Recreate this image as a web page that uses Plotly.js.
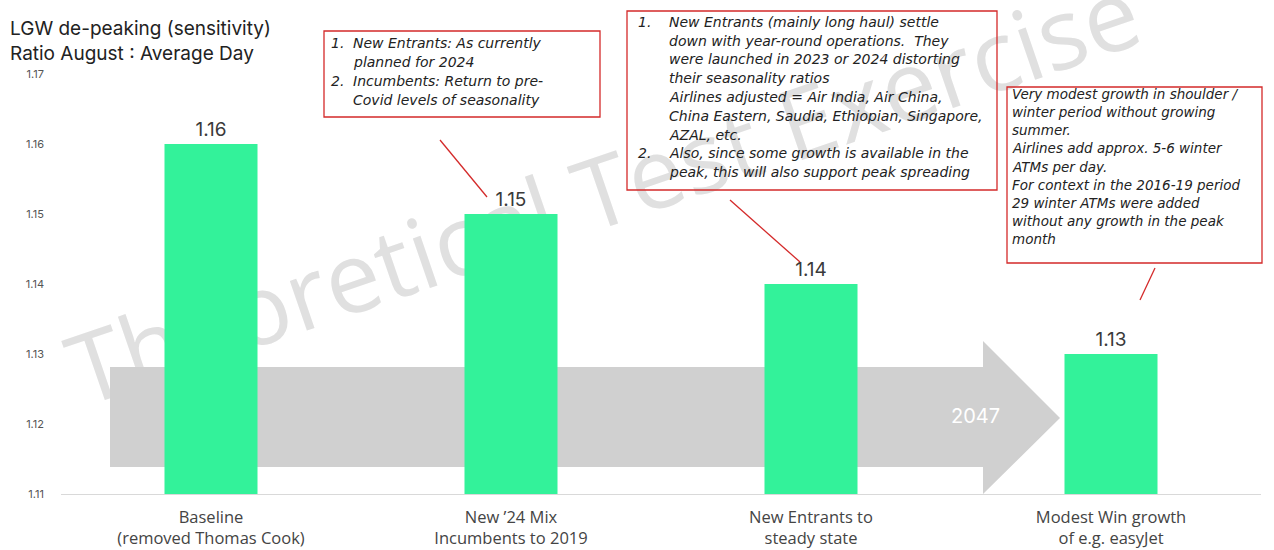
<!DOCTYPE html>
<html>
<head>
<meta charset="utf-8">
<script src="https://cdn.plot.ly/plotly-3.0.1.min.js"></script>
<style>html,body{margin:0;padding:0;background:#fff;}#chart{width:1274px;height:550px;}</style>
</head>
<body>
<div id="chart"></div>
<script>
// ---- data ----
const categories = ["Baseline<br>(removed Thomas Cook)", "New \u201924 Mix<br>Incumbents to 2019", "New Entrants to<br>steady state", "Modest Win growth<br>of e.g. easyJet"];
const ratios = [1.16, 1.15, 1.14, 1.13];
const yTicks = [1.11, 1.12, 1.13, 1.14, 1.15, 1.16, 1.17];
const yTickLabels = ["1.11", "1.12", "1.13", "1.14", "1.15", "1.16", "1.17"];
const titleLines = ["LGW de-peaking (sensitivity)", "Ratio August : Average Day"];
const arrowLabel = "2047";
const watermark = "Theoretical Test Exercise";
const box1Lines = ["New Entrants: As currently", "planned for 2024", "Incumbents: Return to pre-", "Covid levels of seasonality"];
const box1Numbers = ["1.", "", "2.", ""];
const box2Lines = ["New Entrants (mainly long haul) settle", "down with year-round operations.  They", "were launched in 2023 or 2024 distorting",
  "their seasonality ratios", "Airlines adjusted = Air India, Air China,", "China Eastern, Saudia, Ethiopian, Singapore,", "AZAL, etc.",
  "Also, since some growth is available in the", "peak, this will also support peak spreading"];
const box2Numbers = ["1.", "", "", "", "", "", "", "2.", ""];
const box3Lines = ["Very modest growth in shoulder /", "winter period without growing", "summer.", "Airlines add approx. 5-6 winter",
  "ATMs per day.", "For context in the 2016-19 period", "29 winter ATMs were added", "without any growth in the peak", "month"];

// ---- layout helpers (pixel -> paper) ----
const L = 61, R = 13, T = 74, B = 56, W = 1274, H = 550;
const PW = W - L - R, PH = H - T - B;
const px = x => (x - L) / PW;
const py = y => (H - B - y) / PH;

const red = '#d42a2a';
const boxFont = {family: 'DejaVu Sans, sans-serif', size: 14, color: '#222', style: 'italic'};

const trace = {
  type: 'bar',
  x: categories,
  y: ratios,
  width: 0.31,
  marker: {color: '#33f29a'},
  text: ratios.map(v => v.toFixed(2)),
  textposition: 'outside',
  textfont: {family: 'Inter, sans-serif', size: 19, color: '#3a3a3a'},
  cliponaxis: false,
  hoverinfo: 'skip'
};

const arrowPath = 'M ' + px(110) + ' ' + py(367) + ' L ' + px(983) + ' ' + py(367) + ' L ' + px(983) + ' ' + py(341) +
  ' L ' + px(1060) + ' ' + py(418) + ' L ' + px(983) + ' ' + py(494) + ' L ' + px(983) + ' ' + py(467) +
  ' L ' + px(110) + ' ' + py(467) + ' Z';

const shapes = [
  {type: 'rect', xref: 'paper', yref: 'paper', x0: px(20), x1: px(1190), y0: py(420), y1: py(-30), line: {width: 0}, fillcolor: 'rgba(0,0,0,0)', layer: 'below',
   label: {text: watermark, textangle: -19, textposition: 'middle center', font: {family: 'Open Sans, sans-serif', size: 98, color: '#e0e0e0'}}},
  {type: 'path', xref: 'paper', yref: 'paper', path: arrowPath, fillcolor: '#d0d0d0', line: {width: 0}, layer: 'below'},
  // annotation boxes
  {type: 'rect', xref: 'paper', yref: 'paper', x0: px(324), x1: px(600), y0: py(31), y1: py(117), line: {color: red, width: 1.3}, fillcolor: 'rgba(255,255,255,0)', layer: 'above'},
  {type: 'rect', xref: 'paper', yref: 'paper', x0: px(627), x1: px(997), y0: py(11), y1: py(190), line: {color: red, width: 1.3}, fillcolor: 'rgba(255,255,255,0)', layer: 'above'},
  {type: 'rect', xref: 'paper', yref: 'paper', x0: px(1007), x1: px(1262), y0: py(87), y1: py(263), line: {color: red, width: 1.3}, fillcolor: 'rgba(255,255,255,0)', layer: 'above'},
  // pointers
  {type: 'line', xref: 'paper', yref: 'paper', x0: px(440), y0: py(140), x1: px(487), y1: py(197), line: {color: red, width: 1.3}},
  {type: 'line', xref: 'paper', yref: 'paper', x0: px(730), y0: py(200), x1: px(800), y1: py(262), line: {color: red, width: 1.3}},
  {type: 'line', xref: 'paper', yref: 'paper', x0: px(1155), y0: py(268), x1: px(1140), y1: py(300), line: {color: red, width: 1.3}}
];

function txt(x, y, text, font) {
  return {xref: 'paper', yref: 'paper', x: px(x), y: py(y), text: text, showarrow: false,
    xanchor: 'left', yanchor: 'middle', align: 'left', font: font || boxFont, borderpad: 0};
}

const annotations = [
  {xref: 'paper', yref: 'paper', x: px(975), y: py(416), xanchor: 'center', yanchor: 'middle', text: arrowLabel, showarrow: false,
   font: {family: 'Inter, sans-serif', size: 20, color: '#ffffff'}}
];
function addBox(lines, numbers, numX, textX, y0, dy, font) {
  lines.forEach((s, i) => {
    const y = y0 + i * dy;
    if (numbers && numbers[i]) annotations.push(txt(numX, y, numbers[i], font));
    annotations.push(txt(textX, y, s, font));
  });
}
addBox(box1Lines, box1Numbers, 330, 352, 43, 19, boxFont);
addBox(box2Lines, box2Numbers, 637, 668, 22, 18.75, boxFont);
addBox(box3Lines, null, 0, 1011, 94, 18.15, Object.assign({}, boxFont, {size: 13.5}));

const layout = {
  width: W, height: H,
  margin: {l: L, r: R, t: T, b: B},
  paper_bgcolor: '#fff', plot_bgcolor: 'rgba(0,0,0,0)',
  showlegend: false,
  title: {text: titleLines.join('<br>'), x: 10 / W, xanchor: 'left', xref: 'container', y: 1 - 35 / H, yanchor: 'top', yref: 'container',
          font: {family: 'Inter, sans-serif', size: 19, color: '#222'}},
  xaxis: {type: 'category', showline: true, linecolor: '#d9d9d9', linewidth: 1, showgrid: false, ticks: '', zeroline: false,
          tickfont: {family: 'Open Sans, sans-serif', size: 16.5, color: '#444'}, ticklabelstandoff: 8},
  yaxis: {range: [1.11, 1.17], tickvals: yTicks, ticktext: yTickLabels, showgrid: false, zeroline: false, showline: false, ticks: '',
          tickfont: {family: 'Inter, sans-serif', size: 11, color: '#555'}, ticklabelstandoff: 16},
  shapes: shapes,
  annotations: annotations
};

Plotly.newPlot('chart', [trace], layout, {displayModeBar: false, staticPlot: true});
</script>
</body>
</html>
